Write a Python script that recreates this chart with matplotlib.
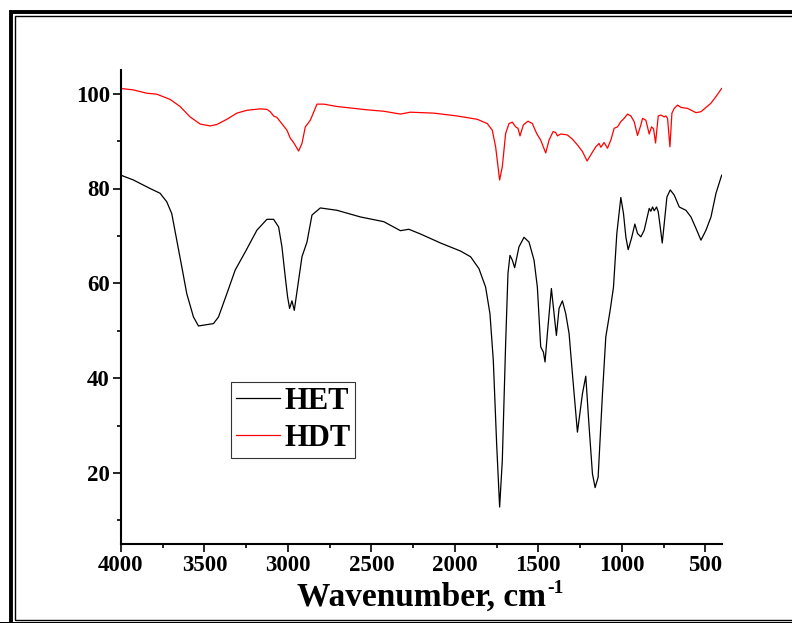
import matplotlib
matplotlib.use("Agg")
import matplotlib.pyplot as plt
from matplotlib.patches import Rectangle
from matplotlib.ticker import MultipleLocator

plt.rcParams["font.family"] = ["Liberation Serif", "DejaVu Serif"]
plt.rcParams["font.weight"] = "bold"

# FTIR spectra (wavenumber cm-1, transmittance %)
het_wn = [4000, 3926, 3826, 3766, 3726, 3696, 3666, 3636, 3606, 3566, 3536, 3446,
          3416, 3366, 3316, 3256, 3186, 3126, 3086, 3056, 3036, 3016, 3002, 2990,
          2976, 2962, 2942, 2916, 2886, 2856, 2806, 2706, 2566, 2426, 2326, 2276,
          2206, 2086, 1966, 1906, 1856, 1816, 1790, 1770, 1750, 1732, 1716, 1696,
          1682, 1670, 1656, 1642, 1616, 1586, 1556, 1526, 1506, 1486, 1470, 1460,
          1446, 1422, 1406, 1392, 1376, 1356, 1336, 1316, 1296, 1266, 1236, 1216,
          1196, 1176, 1160, 1142, 1116, 1096, 1070, 1050, 1030, 1006, 990, 976,
          962, 942, 922, 906, 886, 866, 836, 826, 816, 806, 792, 782, 770, 758,
          746, 730, 710, 686, 656, 616, 586, 556, 526, 496, 466, 436, 402]
het_t = [82.8, 81.8, 80.0, 79.0, 77.2, 74.7, 69.1, 63.5, 57.8, 52.9, 51.0, 51.5,
         52.9, 57.8, 62.8, 66.6, 71.2, 73.5, 73.5, 71.9, 67.7, 61.3, 57.1, 54.7,
         56.3, 54.3, 59.2, 65.6, 68.7, 74.4, 75.9, 75.4, 74.0, 73.0, 71.1, 71.4,
         70.4, 68.5, 66.8, 65.6, 63.1, 59.2, 53.6, 43.8, 26.2, 12.8, 22.6, 47.3,
         62.1, 65.9, 64.9, 63.3, 67.7, 69.7, 68.7, 64.9, 59.2, 46.6, 45.5, 43.4,
         49.4, 58.9, 53.6, 49.0, 54.7, 56.3, 53.6, 49.4, 40.9, 28.6, 36.7, 40.4,
         29.7, 19.8, 16.9, 19.1, 36.7, 48.7, 54.3, 59.2, 70.5, 78.1, 74.7, 69.8,
         67.1, 69.5, 72.5, 70.5, 69.8, 71.2, 75.8, 75.2, 76.1, 75.3, 76.1, 75.1, 71.9, 68.5,
         72.6, 78.2, 79.7, 78.6, 76.1, 75.4, 74.0, 71.6, 69.1, 71.2, 74.0, 79.0, 82.8]

hdt_wn = [4000, 3926, 3846, 3786, 3706, 3646, 3586, 3526, 3466, 3426, 3366, 3306,
          3246, 3166, 3126, 3106, 3086, 3066, 3046, 3026, 3006, 2986, 2966, 2936,
          2916, 2896, 2866, 2826, 2786, 2706, 2526, 2426, 2326, 2266, 2126, 1986,
          1866, 1806, 1776, 1756, 1732, 1716, 1696, 1676, 1656, 1636, 1622, 1610,
          1590, 1562, 1536, 1510, 1486, 1456, 1436, 1412, 1396, 1386, 1366, 1326,
          1296, 1266, 1236, 1208, 1186, 1156, 1136, 1126, 1106, 1086, 1066, 1046,
          1026, 1006, 986, 966, 946, 926, 906, 886, 876, 856, 836, 822, 810, 798,
          782, 766, 746, 736, 726, 712, 700, 686, 666, 646, 606, 556, 526, 466,
          436, 402]
hdt_t = [101.1, 100.8, 100.1, 99.9, 98.8, 97.3, 95.1, 93.6, 93.2, 93.5, 94.6, 95.9,
         96.5, 96.8, 96.7, 96.2, 95.3, 95.0, 94.1, 93.2, 92.3, 90.6, 89.7, 87.9,
         89.5, 93.0, 94.4, 97.8, 97.8, 97.3, 96.6, 96.3, 95.7, 96.1, 95.9, 95.3,
         94.6, 93.7, 92.3, 88.8, 81.8, 84.6, 91.6, 93.7, 94.0, 93.0, 92.7, 91.1,
         93.4, 94.2, 93.7, 91.6, 90.2, 87.5, 90.2, 92.0, 91.8, 91.1, 91.5, 91.3,
         90.4, 89.2, 87.8, 85.8, 87.1, 88.8, 89.5, 88.7, 89.7, 88.5, 90.2, 92.7,
         93.0, 94.1, 94.8, 95.7, 95.3, 94.1, 91.2, 93.4, 94.8, 94.4, 91.5, 93.0,
         92.6, 89.6, 95.3, 95.5, 95.1, 95.3, 94.8, 88.8, 95.9, 96.9, 97.6, 97.1,
         96.9, 96.0, 96.2, 98.0, 99.4, 101.1]

W, H = 792, 623
fig = plt.figure(figsize=(W / 100, H / 100), dpi=100)

# double frame (cropped on the right like the original export)
fig.add_artist(Rectangle((11 / W, -0.05), 1.2, 1 - 12 / H + 0.05, fill=False,
                         lw=2.8, ec="black", transform=fig.transFigure, clip_on=False))
fig.add_artist(Rectangle((14.8 / W, 1 - 619.8 / H), 1.2, (619.8 - 16) / H, fill=False,
                         lw=1.0, ec="black", transform=fig.transFigure, clip_on=False))
fig.add_artist(Rectangle((-0.05, -0.05), 1.2, 0.05 + 1.5 / H, fill=True,
                         lw=0, fc="black", transform=fig.transFigure, clip_on=False))

ax = fig.add_axes([121 / W, 1 - 544 / H, (722 - 121) / W, (544 - 70) / H])
ax.plot(het_wn, het_t, color="black", lw=0.9, label="HET")
ax.plot(hdt_wn, hdt_t, color="red", lw=0.9, label="HDT")

ax.set_xlim(4000, 400)
ax.set_ylim(5, 105)
ax.xaxis.set_major_locator(MultipleLocator(500))
ax.xaxis.set_minor_locator(MultipleLocator(250))
ax.yaxis.set_minor_locator(MultipleLocator(10))
ax.set_yticks([20, 40, 60, 80, 100])

for side in ["top", "right"]:
    ax.spines[side].set_visible(False)
for side in ["left", "bottom"]:
    ax.spines[side].set_linewidth(1.5)

ax.tick_params(which="major", direction="out", length=5.5, width=1.2,
               labelsize=16.5, pad=2.5)
ax.tick_params(which="minor", direction="out", length=3, width=1.2)
for lab in ax.get_xticklabels() + ax.get_yticklabels():
    lab.set_fontweight("bold")

ax.set_xlabel("Wavenumber, cm", fontsize=24, fontweight="bold", labelpad=4)

leg = ax.legend(loc="upper left", bbox_to_anchor=(231 / W, 1 - 382 / H),
                bbox_transform=fig.transFigure, fontsize=22, frameon=True,
                fancybox=False, edgecolor="black", borderaxespad=0,
                borderpad=0.15, handlelength=1.45, handletextpad=0.15,
                labelspacing=0.28)
leg.get_frame().set_linewidth(0.8)
for t in leg.get_texts():
    t.set_fontweight("bold")

# superscript "-1" just after the axis label
fig.canvas.draw()
bb = ax.xaxis.label.get_window_extent(fig.canvas.get_renderer())
fig.text((bb.x1 + 1) / W, (bb.y1 + 2) / H, "-1", fontsize=14,
         fontweight="bold", ha="left", va="top")

fig.savefig("out.png", dpi=100)
